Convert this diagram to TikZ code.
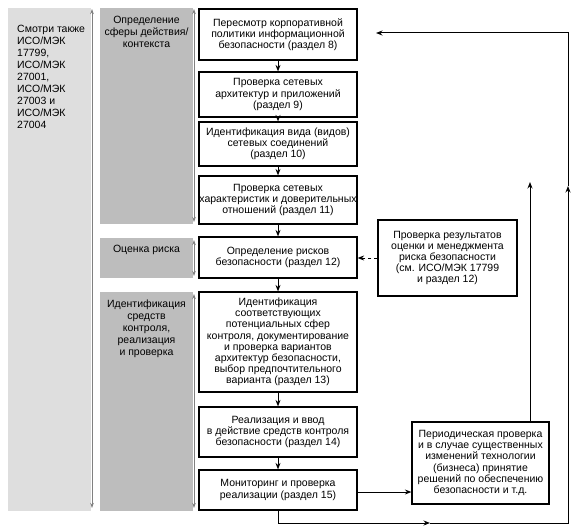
\documentclass[tikz,border=0pt]{standalone}
\usepackage{fontspec}
\setmainfont{Liberation Sans}
\usetikzlibrary{arrows.meta}
\definecolor{lgray}{gray}{0.87}
\definecolor{dgray}{gray}{0.74}
\definecolor{agray}{gray}{0.5}
\begin{document}
\begin{tikzpicture}[x=1pt,y=-1pt,
  box/.style={draw, line width=1.2pt, minimum width=158pt, align=center, inner sep=0pt,
    font=\fontsize{10.5}{11.2}\selectfont},
  sidebox/.style={box, minimum width=139pt},
  coltext/.style={align=center, inner sep=0pt, font=\fontsize{10.5}{12}\selectfont},
  lefttext/.style={align=left, inner sep=0pt, font=\fontsize{10.5}{12}\selectfont},
  arr/.style={-{Stealth[length=6.5pt,width=5pt]}, line width=1pt},
  garr/.style={{Stealth[length=5pt,width=3.5pt]}-{Stealth[length=5pt,width=3.5pt]}, draw=agray, line width=0.8pt}]
\fill[white] (0,0) rectangle (578,532);
\useasboundingbox (0,0) rectangle (578,532);
% columns
\fill[lgray] (8,8) rectangle (91,511);
\fill[dgray] (100,8) rectangle (193,224);
\fill[dgray] (100,238) rectangle (193,278);
\fill[dgray] (100,292) rectangle (193,511);
% gray double arrows
\coordinate (la1) at (92,9); \coordinate (la2) at (92,508);
\draw[garr] (la1) -- (la2);
\coordinate (ga1) at (194,9); \coordinate (ga2) at (194,222);
\draw[garr] (ga1) -- (ga2);
\coordinate (gb1) at (194,240); \coordinate (gb2) at (194,276);
\draw[garr] (gb1) -- (gb2);
\coordinate (gc1) at (194,294); \coordinate (gc2) at (194,508);
\draw[garr] (gc1) -- (gc2);
% column texts
\node[lefttext, anchor=north west] (see) at (17,25) {Смотри также\\ИСО/МЭК\\17799,\\ИСО/МЭК\\27001,\\ИСО/МЭК\\27003 и\\ИСО/МЭК\\27004};
\node[coltext, anchor=north] (c1) at (146.5,16) {Определение\\сферы действия/\\контекста};
\node[coltext, anchor=north] (c2) at (146.5,245) {Оценка риска};
\node[coltext, anchor=north] (c3) at (146.5,300) {Идентификация\\средств\\контроля,\\реализация\\и проверка};
% main boxes
\node[box, minimum height=51pt] (b1) at (278,34.5) {Пересмотр корпоративной\\политики информационной\\безопасности (раздел 8)};
\node[box, minimum height=45pt] (b2) at (278,94.5) {Проверка сетевых\\архитектур и приложений\\(раздел 9)};
\node[box, minimum height=44pt] (b3) at (278,144) {Идентификация вида (видов)\\сетевых соединений\\(раздел 10)};
\node[box, minimum height=48pt] (b4) at (278,200) {Проверка сетевых\\характеристик и доверительных\\отношений (раздел 11)};
\node[box, minimum height=41pt] (b5) at (278,257.5) {Определение рисков\\безопасности (раздел 12)};
\node[box, minimum height=100pt] (b6) at (278,342) {Идентификация\\соответствующих\\потенциальных сфер\\контроля, документирование\\и проверка вариантов\\архитектур безопасности,\\выбор предпочтительного\\варианта (раздел 13)};
\node[box, minimum height=50pt] (b7) at (278,432) {Реализация и ввод\\в действие средств контроля\\безопасности (раздел 14)};
\node[box, minimum height=40pt] (b8) at (278,490) {Мониторинг и проверка\\реализации (раздел 15)};
% side boxes
\node[sidebox, minimum height=76pt] (r1) at (447.5,258) {Проверка результатов\\оценки и менеджмента\\риска безопасности\\(см. ИСО/МЭК 17799\\и раздел 12)};
\node[sidebox, minimum width=137pt, minimum height=82pt] (p) at (480.5,463) {Периодическая проверка\\и в случае существенных\\изменений технологии\\(бизнеса) принятие\\решений по обеспечению\\безопасности и т.д.};
% arrows between main boxes
\draw[arr] (b1) -- (b2);
\draw[arr] (b2) -- (b3);
\draw[arr] (b3) -- (b4);
\draw[arr] (b4) -- (b5);
\draw[arr] (b5) -- (b6);
\draw[arr] (b6) -- (b7);
\draw[arr] (b7) -- (b8);
% dashed from r1 to b5
\draw[arr, dashed] (r1.west) -- (r1.west -| b5.east);
% b8 to p
\coordinate (b8r) at (357,492);
\draw[arr] (b8r -| b8.east) -- (b8r -| p.west);
% p up
\coordinate (pu) at (530,182);
\draw[arr] (p.north -| pu) -- (pu);
% loop
\coordinate (m1) at (430,523);
\coordinate (k1) at (568,523);
\coordinate (m2) at (568,186);
\coordinate (k2) at (568,33);
\coordinate (tt) at (376,33);
\draw[arr] (b8.south) |- (m1);
\draw[arr] (m1) -- (k1) -- (m2);
\draw[arr] (m2) -- (k2) -- (tt);
\end{tikzpicture}
\end{document}
